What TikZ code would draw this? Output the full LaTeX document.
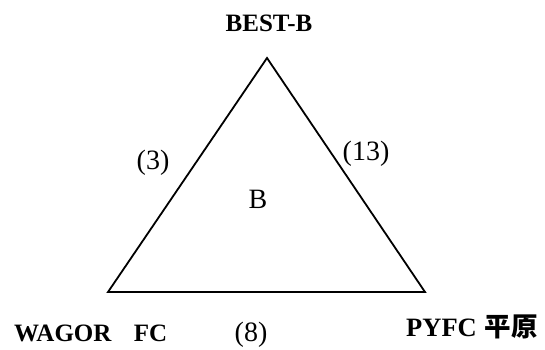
\documentclass[tikz,border=0pt]{standalone}
\usepackage{fontspec}
\setmainfont{Liberation Serif}
\newfontfamily\cjk{Noto Sans CJK SC}
\begin{document}
\begin{tikzpicture}[x=1pt,y=1pt,
  boldlbl/.style={inner sep=0pt,anchor=base,font=\fontsize{25}{30}\selectfont\bfseries},
  reglbl/.style={inner sep=0pt,font=\fontsize{28}{32}\selectfont},
  edge/.style={draw,line width=1.8pt,line join=miter}]
\useasboundingbox (0,0) rectangle (545,349);
\coordinate (top) at (267,291);
\coordinate (bl) at (108,57);
\coordinate (br) at (425,57);
\draw[edge] (top) -- (bl) -- (br) -- cycle;
\node[boldlbl] (best) at (269,317) {BEST-B};
\node[reglbl] (e3) at (153,186) {(3)};
\node[reglbl] (e13) at (366,195) {(13)};
\node[reglbl,anchor=base] (cb) at (258,141) {B};
\node[boldlbl,anchor=base west] (wagor) at (14,8) {WAGOR\hspace{0.9em}FC};
\node[reglbl,anchor=base] (e8) at (251,8) {(8)};
\node[boldlbl,anchor=base west,font=\fontsize{26.5}{30}\selectfont\bfseries] (pyfc) at (406,13) {PYFC\hspace{0.3em}{\cjk\bfseries 平原}};
\end{tikzpicture}
\end{document}
